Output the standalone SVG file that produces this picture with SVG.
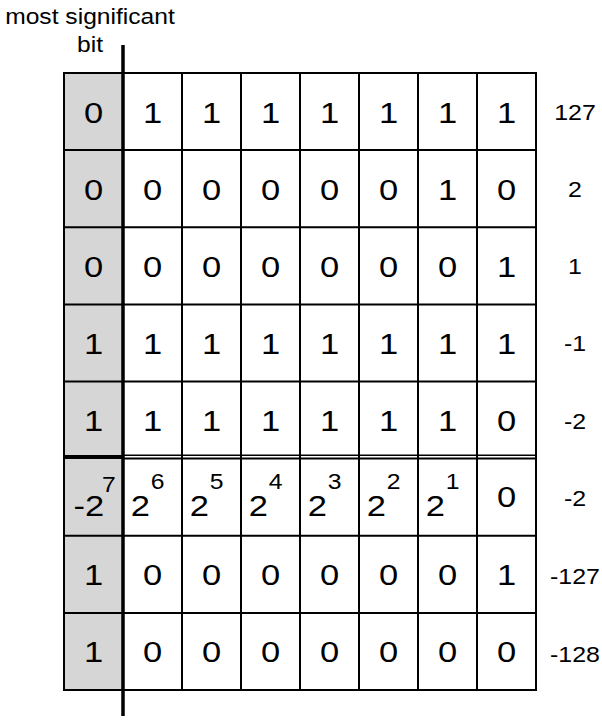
<svg xmlns="http://www.w3.org/2000/svg" width="602" height="720" viewBox="0 0 602 720">
<style>
text { font-family: "Liberation Sans", Arial, Helvetica, sans-serif; fill: #000; }
.d { font-size: 30px; text-anchor: middle; }
.b { font-size: 30px; }
.s { font-size: 21.5px; }
.l { font-size: 21.5px; text-anchor: middle; }
.t { font-size: 22px; text-anchor: middle; }
.msb { fill: #d6d6d6; stroke: #000; stroke-width: 2; }
</style>
<rect x="0" y="0" width="602" height="720" fill="#fff"/>
<g id="title">
<text class="t" transform="translate(90,24) scale(1.12,1)">most significant</text>
<text class="t" transform="translate(90,52) scale(1.12,1)">bit</text>
</g>
<g id="grid">
<rect class="msb" x="64" y="73" width="59" height="617"/>
<rect x="123" y="73" width="413" height="617" fill="#fff" stroke="#000" stroke-width="2"/>
<g stroke="#000" stroke-width="2">
<line x1="64" y1="150.1" x2="536" y2="150.1"/>
<line x1="64" y1="227.25" x2="536" y2="227.25"/>
<line x1="64" y1="304.4" x2="536" y2="304.4"/>
<line x1="64" y1="381.5" x2="536" y2="381.5"/>
<line x1="64" y1="535.75" x2="536" y2="535.75"/>
<line x1="64" y1="612.9" x2="536" y2="612.9"/>
<line x1="182" y1="73" x2="182" y2="690"/>
<line x1="241" y1="73" x2="241" y2="690"/>
<line x1="300" y1="73" x2="300" y2="690"/>
<line x1="359" y1="73" x2="359" y2="690"/>
<line x1="418" y1="73" x2="418" y2="690"/>
<line x1="477" y1="73" x2="477" y2="690"/>
</g>
<g id="double-line" stroke="#000">
<line x1="64" y1="457" x2="123" y2="457" stroke-width="4"/>
<line x1="123" y1="455.2" x2="536" y2="455.2" stroke-width="1.5"/>
<line x1="123" y1="458.6" x2="536" y2="458.6" stroke-width="2"/>
</g>
</g>
<g id="connectors">
<line x1="123" y1="45" x2="123" y2="716" stroke="#000" stroke-width="3.5"/>
</g>
<g id="row-127">
<text class="d" transform="translate(93.5,122.5) scale(1.15,1)">0</text>
<text class="d" transform="translate(152.5,122.5) scale(1.15,1)">1</text>
<text class="d" transform="translate(211.5,122.5) scale(1.15,1)">1</text>
<text class="d" transform="translate(270.5,122.5) scale(1.15,1)">1</text>
<text class="d" transform="translate(329.5,122.5) scale(1.15,1)">1</text>
<text class="d" transform="translate(388.5,122.5) scale(1.15,1)">1</text>
<text class="d" transform="translate(447.5,122.5) scale(1.15,1)">1</text>
<text class="d" transform="translate(506.5,122.5) scale(1.15,1)">1</text>
<text class="l" transform="translate(575,120) scale(1.16,1)">127</text>
</g>
<g id="row-2">
<text class="d" transform="translate(93.5,199.6) scale(1.15,1)">0</text>
<text class="d" transform="translate(152.5,199.6) scale(1.15,1)">0</text>
<text class="d" transform="translate(211.5,199.6) scale(1.15,1)">0</text>
<text class="d" transform="translate(270.5,199.6) scale(1.15,1)">0</text>
<text class="d" transform="translate(329.5,199.6) scale(1.15,1)">0</text>
<text class="d" transform="translate(388.5,199.6) scale(1.15,1)">0</text>
<text class="d" transform="translate(447.5,199.6) scale(1.15,1)">1</text>
<text class="d" transform="translate(506.5,199.6) scale(1.15,1)">0</text>
<text class="l" transform="translate(575,197.1) scale(1.16,1)">2</text>
</g>
<g id="row-1">
<text class="d" transform="translate(93.5,276.75) scale(1.15,1)">0</text>
<text class="d" transform="translate(152.5,276.75) scale(1.15,1)">0</text>
<text class="d" transform="translate(211.5,276.75) scale(1.15,1)">0</text>
<text class="d" transform="translate(270.5,276.75) scale(1.15,1)">0</text>
<text class="d" transform="translate(329.5,276.75) scale(1.15,1)">0</text>
<text class="d" transform="translate(388.5,276.75) scale(1.15,1)">0</text>
<text class="d" transform="translate(447.5,276.75) scale(1.15,1)">0</text>
<text class="d" transform="translate(506.5,276.75) scale(1.15,1)">1</text>
<text class="l" transform="translate(575,274.25) scale(1.16,1)">1</text>
</g>
<g id="row-minus1">
<text class="d" transform="translate(93.5,353.9) scale(1.15,1)">1</text>
<text class="d" transform="translate(152.5,353.9) scale(1.15,1)">1</text>
<text class="d" transform="translate(211.5,353.9) scale(1.15,1)">1</text>
<text class="d" transform="translate(270.5,353.9) scale(1.15,1)">1</text>
<text class="d" transform="translate(329.5,353.9) scale(1.15,1)">1</text>
<text class="d" transform="translate(388.5,353.9) scale(1.15,1)">1</text>
<text class="d" transform="translate(447.5,353.9) scale(1.15,1)">1</text>
<text class="d" transform="translate(506.5,353.9) scale(1.15,1)">1</text>
<text class="l" transform="translate(575,351.4) scale(1.16,1)">-1</text>
</g>
<g id="row-minus2">
<text class="d" transform="translate(93.5,431) scale(1.15,1)">1</text>
<text class="d" transform="translate(152.5,431) scale(1.15,1)">1</text>
<text class="d" transform="translate(211.5,431) scale(1.15,1)">1</text>
<text class="d" transform="translate(270.5,431) scale(1.15,1)">1</text>
<text class="d" transform="translate(329.5,431) scale(1.15,1)">1</text>
<text class="d" transform="translate(388.5,431) scale(1.15,1)">1</text>
<text class="d" transform="translate(447.5,431) scale(1.15,1)">1</text>
<text class="d" transform="translate(506.5,431) scale(1.15,1)">0</text>
<text class="l" transform="translate(575,428.5) scale(1.16,1)">-2</text>
</g>
<g id="row-weights">
<text class="b" transform="translate(73.5,516) scale(1.15,1)">-2</text>
<text class="s" transform="translate(102,491.5) scale(1.15,1)">7</text>
<text class="b" transform="translate(130.7,516) scale(1.15,1)">2</text>
<text class="s" transform="translate(150.7,488.5) scale(1.15,1)">6</text>
<text class="b" transform="translate(189.7,516) scale(1.15,1)">2</text>
<text class="s" transform="translate(209.7,488.5) scale(1.15,1)">5</text>
<text class="b" transform="translate(248.7,516) scale(1.15,1)">2</text>
<text class="s" transform="translate(268.7,488.5) scale(1.15,1)">4</text>
<text class="b" transform="translate(307.7,516) scale(1.15,1)">2</text>
<text class="s" transform="translate(327.7,488.5) scale(1.15,1)">3</text>
<text class="b" transform="translate(366.7,516) scale(1.15,1)">2</text>
<text class="s" transform="translate(386.7,488.5) scale(1.15,1)">2</text>
<text class="b" transform="translate(425.7,516) scale(1.15,1)">2</text>
<text class="s" transform="translate(445.7,488.5) scale(1.15,1)">1</text>
<text class="d" transform="translate(506.5,507.1) scale(1.15,1)">0</text>
<text class="l" transform="translate(575,505.6) scale(1.16,1)">-2</text>
</g>
<g id="row-minus127">
<text class="d" transform="translate(93.5,584.75) scale(1.15,1)">1</text>
<text class="d" transform="translate(152.5,584.75) scale(1.15,1)">0</text>
<text class="d" transform="translate(211.5,584.75) scale(1.15,1)">0</text>
<text class="d" transform="translate(270.5,584.75) scale(1.15,1)">0</text>
<text class="d" transform="translate(329.5,584.75) scale(1.15,1)">0</text>
<text class="d" transform="translate(388.5,584.75) scale(1.15,1)">0</text>
<text class="d" transform="translate(447.5,584.75) scale(1.15,1)">0</text>
<text class="d" transform="translate(506.5,584.75) scale(1.15,1)">1</text>
<text class="l" transform="translate(575,584.25) scale(1.16,1)">-127</text>
</g>
<g id="row-minus128">
<text class="d" transform="translate(93.5,661.9) scale(1.15,1)">1</text>
<text class="d" transform="translate(152.5,661.9) scale(1.15,1)">0</text>
<text class="d" transform="translate(211.5,661.9) scale(1.15,1)">0</text>
<text class="d" transform="translate(270.5,661.9) scale(1.15,1)">0</text>
<text class="d" transform="translate(329.5,661.9) scale(1.15,1)">0</text>
<text class="d" transform="translate(388.5,661.9) scale(1.15,1)">0</text>
<text class="d" transform="translate(447.5,661.9) scale(1.15,1)">0</text>
<text class="d" transform="translate(506.5,661.9) scale(1.15,1)">0</text>
<text class="l" transform="translate(575,662) scale(1.16,1)">-128</text>
</g>
</svg>
